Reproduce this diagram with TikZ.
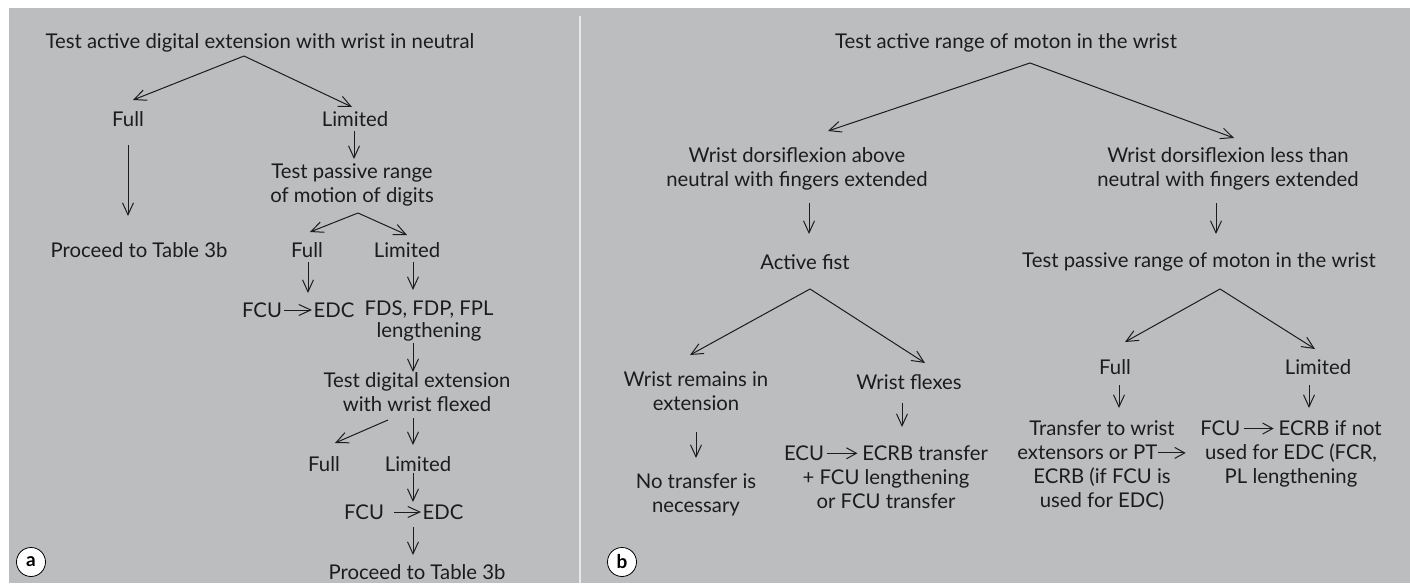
\documentclass[tikz,border=0pt]{standalone}
\usepackage{fontspec}
\setmainfont{Lato}
\usetikzlibrary{arrows.meta}
\definecolor{panel}{RGB}{188,189,191}
\definecolor{ink}{RGB}{28,28,28}
\definecolor{divider}{RGB}{232,232,233}
\newcommand{\fs}{\fontsize{20.3}{24}\selectfont}
\newcommand{\tarr}[1]{\tikz[baseline=0pt]\draw[line width=1pt,draw=ink,-{Straight Barb[length=10pt,width=11pt]}] (0pt,7pt)--(#1,7pt);}
\begin{document}
\begin{tikzpicture}[x=1pt,y=-1pt,
  txt/.style={font=\fs,align=center,inner sep=0pt,text=ink},
  arr/.style={draw=ink,line width=1pt,-{Straight Barb[length=12pt,width=11pt]}},
  lbl/.style={circle,draw=black,fill=white,line width=0.8pt,minimum size=29pt,inner sep=0pt,font=\fontsize{19}{20}\selectfont\bfseries}]
\useasboundingbox (0,0) rectangle (1410,585);
\fill[white] (0,0) rectangle (1410,585);
\fill[panel] (9,8) rectangle (1410,583);
\fill[divider] (578.5,16) rectangle (580.5,583);

% ---------- panel a ----------
\node[txt] (a0) at (260,43) {Test active digital extension with wrist in neutral};
\node[txt] (a1) at (128,119) {Full};
\node[txt] (a2) at (355,119) {Limited};
\node[txt] (a3) at (139,250) {Proceed to Table 3b};
\node[txt] (a4) at (352,185) {Test passive range\\of motion of digits};
\node[txt] (a5) at (307,250) {Full};
\node[txt] (a6) at (407,250) {Limited};
\node[txt] (a7) at (262,310) {FCU};
\node[txt] (a8) at (334,310) {EDC};
\node[txt,font=\fontsize{20.3}{22}\selectfont] (a9) at (429,321) {FDS, FDP, FPL\\lengthening};
\node[txt] (a10) at (417,392) {Test digital extension\\with wrist flexed};
\node[txt] (a11) at (324,464) {Full};
\node[txt] (a12) at (418,464) {Limited};
\node[txt] (a13) at (364,512) {FCU};
\node[txt] (a14) at (443,512) {EDC};
\node[txt] (a15) at (417,572) {Proceed to Table 3b};
\node[lbl] (la) at (31,562) {a};

\draw[arr] ([shift={(-16,13)}]a0.center) -- ([shift={(5,-19)}]a1.center);
\draw[arr] ([shift={(-16,13)}]a0.center) -- ([shift={(-3,-12)}]a2.center);
\draw[arr] ([shift={(0,26)}]a1.center) -- ([shift={(-11,-34)}]a3.center);
\draw[arr] ([shift={(-1,12)}]a2.center) -- ([shift={(2,-26)}]a4.center);
\draw[arr] ([shift={(6,28)}]a4.center) -- ([shift={(3,-18)}]a5.center);
\draw[arr] ([shift={(6,28)}]a4.center) -- ([shift={(0,-15)}]a6.center);
\draw[arr] ([shift={(1,12)}]a5.center) -- ([shift={(46,-17)}]a7.center);
\draw[arr] ([shift={(6,12)}]a6.center) -- ([shift={(-16,-31)}]a9.center);
\draw[arr] ([shift={(22,0)}]a7.center) -- ([shift={(-22,0)}]a8.center);
\draw[arr] ([shift={(-16,22)}]a9.center) -- ([shift={(-4,-20)}]a10.center);
\draw[arr] ([shift={(-29,28)}]a10.center) -- ([shift={(11,-21)}]a11.center);
\draw[arr] ([shift={(-4,26)}]a10.center) -- ([shift={(-5,-19)}]a12.center);
\draw[arr] ([shift={(-5,9)}]a12.center) -- ([shift={(49,-10)}]a13.center);
\draw[arr] ([shift={(30,0)}]a13.center) -- ([shift={(-22,0)}]a14.center);
\draw[arr] ([shift={(49,15)}]a13.center) -- ([shift={(-4,-17)}]a15.center);

% ---------- panel b ----------
\node[txt] (b0) at (1006,43) {Test active range of moton in the wrist};
\node[txt] (b1) at (797,169) {Wrist dorsiflexion above\\neutral with fingers extended};
\node[txt] (b2) at (1228,169) {Wrist dorsiflexion less than\\neutral with fingers extended};
\node[txt] (b3) at (805,262) {Active fist};
\node[txt] (b4) at (1199,262) {Test passive range of moton in the wrist};
\node[txt] (b5) at (696,391) {Wrist remains in\\extension};
\node[txt] (b6) at (909,382) {Wrist flexes};
\node[txt] (b7) at (1115,367) {Full};
\node[txt] (b8) at (1318,367) {Limited};
\node[txt] (b9) at (696,495) {No transfer is\\necessary};
\node[txt] (b10) at (886,477) {ECU\hspace{3pt}\tarr{30pt}\hspace{4pt}ECRB transfer\\+ FCU lengthening\\or FCU transfer};
\node[txt] (b11) at (1102,466) {Transfer to wrist\\extensors or PT\tarr{28pt}\\ECRB (if FCU is\\used for EDC)};
\node[txt] (b12) at (1291,454) {FCU\hspace{3pt}\tarr{30pt}\hspace{4pt}ECRB if not\\used for EDC (FCR,\\PL lengthening};
\node[lbl] (lb) at (622,562) {b};

\draw[arr] ([shift={(24,20)}]b0.center) -- ([shift={(31,-38)}]b1.center);
\draw[arr] ([shift={(24,20)}]b0.center) -- ([shift={(6,-31)}]b2.center);
\draw[arr] ([shift={(12,34)}]b1.center) -- ([shift={(4,-28)}]b3.center);
\draw[arr] ([shift={(-12,34)}]b2.center) -- ([shift={(17,-28)}]b4.center);
\draw[arr] ([shift={(5,27)}]b3.center) -- ([shift={(-6,-36)}]b5.center);
\draw[arr] ([shift={(5,27)}]b3.center) -- ([shift={(16,-19)}]b6.center);
\draw[arr] ([shift={(21,27)}]b4.center) -- ([shift={(10,-25)}]b7.center);
\draw[arr] ([shift={(21,27)}]b4.center) -- ([shift={(-3,-18)}]b8.center);
\draw[arr] ([shift={(0,41)}]b5.center) -- ([shift={(0,-37)}]b9.center);
\draw[arr] ([shift={(-7,21)}]b6.center) -- ([shift={(16,-50)}]b10.center);
\draw[arr] ([shift={(4,18)}]b7.center) -- ([shift={(17,-58)}]b11.center);
\draw[arr] ([shift={(-9,18)}]b8.center) -- ([shift={(18,-46)}]b12.center);
\end{tikzpicture}
\end{document}
